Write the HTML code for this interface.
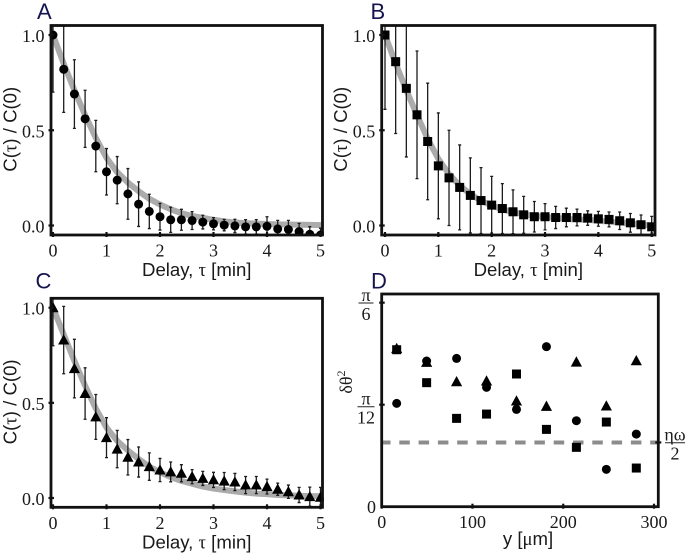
<!DOCTYPE html>
<html>
<head>
<meta charset="utf-8">
<style>
html,body{margin:0;padding:0;background:#fff;}
svg{display:block;}
.tick{font-family:"Liberation Serif",serif;font-size:18px;fill:#1a1a1a;}
.title{font-family:"Liberation Sans",sans-serif;font-size:18.6px;fill:#1a1a1a;}
.greek{font-family:"Liberation Serif",serif;}
.letter{font-family:"Liberation Sans",sans-serif;font-size:22px;fill:#14144f;}
</style>
</head>
<body>
<svg id="fig" width="688" height="556" viewBox="0 0 688 556" xmlns="http://www.w3.org/2000/svg"></svg>
<script>
const delays = [0,0.2,0.4,0.6,0.8,1,1.2,1.4,1.6,1.8,2,2.2,2.4,2.6,2.8,3,3.2,3.4,3.6,3.8,4,4.2,4.4,4.6,4.8,5];
const xTicksDelay = [0,1,2,3,4,5];
const yTicksCorr = [0,0.5,1];
const yTickLabelsCorr = ["0.0","0.5","1.0"];

const meansA = [1,.82,.69,.56,.417,.282,.238,.166,.112,.074,.046,.03,.03,.026,.018,.009,.002,-.002,-.007,-.007,-.004,-.018,-.021,-.032,-.046,-.05];
const errsA = [.3,.226,.18,.15,.135,.122,.124,.133,.117,.09,.07,.066,.055,.047,.036,.032,.03,.035,.038,.038,.05,.045,.048,.043,.04,.036];
const fitA = [1,.85,.71,.58,.46,.355,.28,.225,.18,.14,.11,.085,.065,.05,.04,.03,.022,.016,.012,.01,.008,.006,.005,.004,.003,.002];

const meansB = [1,.86,.72,.581,.441,.313,.25,.2,.158,.131,.107,.089,.072,.056,.046,.046,.042,.042,.042,.039,.035,.032,.025,.014,.004,-.007];
const errsB = [.39,.377,.36,.335,.306,.278,.25,.223,.197,.173,.151,.131,.115,.097,.08,.069,.058,.049,.044,.038,.039,.039,.046,.049,.051,.055];
const fitB = [1,.85,.71,.58,.455,.35,.27,.21,.165,.13,.105,.085,.07,.06,.05,.045,.04,.035,.03,.03,.025,.02,.015,.01,.005,0];

const meansC = [1,.83,.68,.549,.426,.317,.257,.214,.189,.165,.147,.137,.13,.112,.103,.095,.089,.084,.068,.068,.06,.046,.033,.016,.007,.004];
const errsC = [.2,.177,.154,.135,.118,.105,.098,.093,.079,.072,.061,.052,.045,.037,.037,.04,.045,.045,.045,.045,.039,.032,.035,.04,.05,.052];
const fitC = [1,.86,.72,.59,.47,.37,.3,.25,.205,.165,.135,.11,.09,.075,.06,.05,.042,.035,.028,.023,.02,.016,.014,.012,.01,.01];

const positionsD = [16.5,49.5,82.5,115.5,148.5,181.5,214.5,247.5,280.5];
const circlesD = [1.013,1.428,1.454,1.17,.954,1.569,.843,.366,.712];
const squaresD = [1.539,1.216,.866,.908,1.301,.758,.582,.83,.379];
const trianglesD = [1.55,1.415,1.225,1.232,1.036,.984,1.418,.987,1.431];
const dashedLevelD = [.63];
const xTicksD = [0,100,200,300];

const NS = "http://www.w3.org/2000/svg";
const fig = document.getElementById("fig");

function make(parent, tag, attrs, text) {
  const el = document.createElementNS(NS, tag);
  for (const k in attrs) el.setAttribute(k, attrs[k]);
  if (text !== undefined) el.textContent = text;
  parent.appendChild(el);
  return el;
}
function linear(d0, d1, r0, r1) {
  return v => r0 + (v - d0) * (r1 - r0) / (d1 - d0);
}
function marker(parent, shape, cx, cy) {
  let el;
  if (shape === "circle") {
    el = make(parent, "circle", {cx: cx, cy: cy, r: 4.5, fill: "#000"});
  } else if (shape === "square") {
    el = make(parent, "rect", {x: cx - 4.5, y: cy - 4.5, width: 9, height: 9, fill: "#000"});
  } else {
    el = make(parent, "polygon", {points: (cx) + "," + (cy - 5.8) + " " + (cx + 5.6) + "," + (cy + 4.5) + " " + (cx - 5.6) + "," + (cy + 4.5), fill: "#000"});
  }
  return el;
}
function frame(g, L, T, R, B) {
  const f = make(g, "rect", {x: L, y: T, width: R - L, height: B - T, fill: "none", stroke: "#111", "stroke-width": 2.8});
  
  
}
function tickMark(g, x1, y1, x2, y2) {
  const t = make(g, "line", {x1: x1, y1: y1, x2: x2, y2: y2, stroke: "#111", "stroke-width": 2.2});
  
  
}

function decayPanel(cfg) {
  const g = make(fig, "g", {});
  
  
  const sx = linear(0, 5, cfg.x0, cfg.x5);
  const sy = linear(0, 1, cfg.y0, cfg.y1);
  const clipId = "clip-" + cfg.letter;
  const defs = make(g, "defs", {});
  const cp = make(defs, "clipPath", {id: clipId});
  make(cp, "rect", {x: cfg.L - 1.4, y: cfg.T, width: cfg.R - cfg.L + 2.8, height: cfg.B - cfg.T});
  const plot = make(g, "g", {"clip-path": "url(#" + clipId + ")"});

  const fitPts = delays.map((d, i) => sx(d).toFixed(2) + "," + sy(cfg.fit[i]).toFixed(2));
  fitPts.push(cfg.R.toFixed(2) + "," + sy(cfg.fit[cfg.fit.length - 1]).toFixed(2));
  const fit = make(plot, "polyline", {points: fitPts.join(" "), fill: "none", stroke: "#ababab", "stroke-width": 6, "stroke-linejoin": "round"});
  
  

  delays.forEach((d, i) => {
    const x = sx(d), hi = sy(cfg.means[i] + cfg.errs[i]), lo = sy(cfg.means[i] - cfg.errs[i]);
    const bar = make(plot, "path", {d: "M" + x + " " + hi + "V" + lo + "M" + (x - 1.5) + " " + hi + "H" + (x + 1.5) + "M" + (x - 1.5) + " " + lo + "H" + (x + 1.5), fill: "none", stroke: "#1c1c1c", "stroke-width": 1.3});
    
    
  });
  delays.forEach((d, i) => {
    const m = marker(plot, cfg.shape, sx(d), sy(cfg.means[i]));
    
    
  });

  frame(g, cfg.L, cfg.T, cfg.R, cfg.B);

  xTicksDelay.forEach(v => {
    tickMark(g, sx(v), cfg.B - 3, sx(v), cfg.B + 2);
    const t = make(g, "text", {x: sx(v), y: cfg.B + 21.5, "text-anchor": "middle", "class": "tick"}, String(v));
    
    
  });
  yTicksCorr.forEach((v, i) => {
    tickMark(g, cfg.L - 2.5, sy(v), cfg.L + 3, sy(v));
    const t = make(g, "text", {x: cfg.L - 6.5, y: sy(v) + 7, "text-anchor": "end", "class": "tick"}, yTickLabelsCorr[i]);
    
    
  });

  const xt = make(g, "text", {x: (cfg.L + cfg.R) / 2 + 10, y: cfg.B + 41, "text-anchor": "middle", "class": "title"});
  
  
  make(xt, "tspan", {}, "Delay, ");
  make(xt, "tspan", {"class": "greek"}, "τ");
  make(xt, "tspan", {}, " [min]");

  const cy = (cfg.y0 + cfg.y1) / 2 - 1;
  const tx = cfg.L - 34.5;
  const yt = make(g, "text", {x: tx, y: cy, "text-anchor": "middle", "class": "title", transform: "rotate(-90 " + tx + " " + cy + ")"});
  
  
  make(yt, "tspan", {}, "C(");
  make(yt, "tspan", {"class": "greek"}, "τ");
  make(yt, "tspan", {}, ") / C(0)");

  const lt = make(g, "text", {x: cfg.letterX, y: cfg.letterY, "class": "letter"}, cfg.letter);
  
  
}

decayPanel({name:"panel-a", letter:"A", L:51, R:322.5, T:25.5, B:235, x0:53, x5:320.5, y0:225.5, y1:35, shape:"circle", means:meansA, errs:errsA, fit:fitA, letterX:37, letterY:19});
decayPanel({name:"panel-b", letter:"B", L:381.7, R:655, T:25.5, B:235, x0:385, x5:651.7, y0:225.5, y1:35, shape:"square", means:meansB, errs:errsB, fit:fitB, letterX:370.5, letterY:19});
decayPanel({name:"panel-c", letter:"C", L:51, R:322.5, T:298.3, B:507.3, x0:53, x5:320.5, y0:498, y1:307.7, shape:"triangle", means:meansC, errs:errsC, fit:fitC, letterX:35.5, letterY:288.5});

(function panelD() {
  const L = 381.7, R = 658.3, T = 294, B = 506.7;
  const g = make(fig, "g", {});
  
  
  const sx = linear(0, 300, 381.7, 654);
  const sy = linear(0, 1, 506.7, 404.7);

  const dash = make(g, "line", {x1: L, x2: R, y1: sy(dashedLevelD[0]), y2: sy(dashedLevelD[0]), stroke: "#8c8c8c", "stroke-width": 4, "stroke-dasharray": "10.5 8.8", "stroke-dashoffset": 1.7});
  
  

  positionsD.forEach((p, i) => {
    const a = marker(g, "triangle", sx(p), sy(trianglesD[i]));
    
    
    const b = marker(g, "circle", sx(p), sy(circlesD[i]));
    
    
    const c = marker(g, "square", sx(p), sy(squaresD[i]));
    
    
  });

  frame(g, L, T, R, B);

  xTicksD.forEach(v => {
    tickMark(g, sx(v), B - 3, sx(v), B + 2);
    const t = make(g, "text", {x: sx(v), y: B + 21.5, "text-anchor": "middle", "class": "tick"}, String(v));
    
    
  });

  tickMark(g, L - 2.5, sy(2), L + 3, sy(2));
  tickMark(g, L - 2.5, sy(1), L + 3, sy(1));
  tickMark(g, R - 3, sy(dashedLevelD[0]), R + 3, sy(dashedLevelD[0]));

  function fraction(name, cx, barY, top, bottom, halfWidth) {
    const f = make(g, "g", {});
    
    
    make(f, "text", {x: cx, y: barY - 2, "text-anchor": "middle", "class": "tick"}, top);
    make(f, "line", {x1: cx - halfWidth, x2: cx + halfWidth, y1: barY, y2: barY, stroke: "#222", "stroke-width": 1});
    make(f, "text", {x: cx, y: barY + 17, "text-anchor": "middle", "class": "tick"}, bottom);
  }
  fraction("y-tick-label-pi-over-6", 366, 303, "π", "6", 7.5);
  fraction("y-tick-label-pi-over-12", 366, 406.7, "π", "12", 8.5);
  fraction("eta-omega-over-2-label", 675, 442.7, "ηω", "2", 10);

  const zero = make(g, "text", {x: 376, y: 513, "text-anchor": "end", "class": "tick"}, "0");
  
  

  const xt = make(g, "text", {x: 528, y: 545, "text-anchor": "middle", "class": "title"});
  
  
  make(xt, "tspan", {}, "y [");
  make(xt, "tspan", {"class": "greek"}, "μ");
  make(xt, "tspan", {}, "m]");

  const yt = make(g, "text", {x: 352, y: 382, "text-anchor": "middle", "class": "tick", transform: "rotate(-90 352 382)"});
  
  
  make(yt, "tspan", {"font-size": "18"}, "δθ");
  make(yt, "tspan", {"font-size": "12", dy: "-7"}, "2");

  const lt = make(g, "text", {x: 371, y: 288.5, "class": "letter"}, "D");
  
  
})();
</script>
</body>
</html>
